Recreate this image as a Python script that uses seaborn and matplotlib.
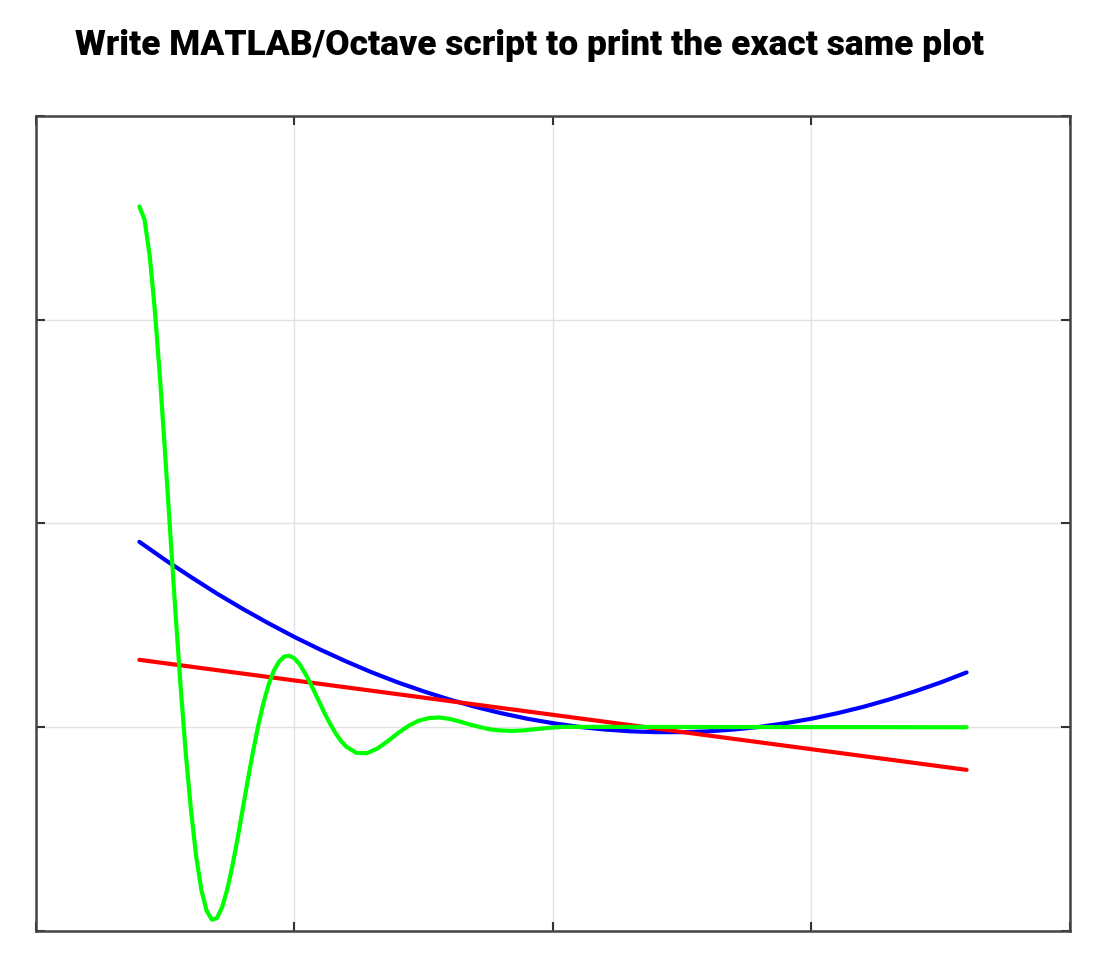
import matplotlib
matplotlib.use("Agg")
import matplotlib.pyplot as plt
import seaborn as sns

# values (x from 0 to 4, y from -1 to 3)
red_x = [0.4, 3.6]
red_y = [0.331, -0.209]

blue_x = [0.4, 0.5, 0.6, 0.7, 0.8, 0.9, 1.0, 1.1, 1.2, 1.3, 1.4, 1.5, 1.6, 1.7,
          1.8, 1.9, 2.0, 2.1, 2.2, 2.3, 2.4, 2.5, 2.6, 2.7, 2.8, 2.9, 3.0, 3.1,
          3.2, 3.3, 3.4, 3.5, 3.6]
blue_y = [0.910, 0.821, 0.737, 0.656, 0.581, 0.510, 0.443, 0.381, 0.323, 0.269,
          0.220, 0.176, 0.136, 0.100, 0.069, 0.042, 0.020, 0.002, -0.011, -0.020,
          -0.024, -0.024, -0.020, -0.011, 0.002, 0.020, 0.042, 0.069, 0.100,
          0.136, 0.176, 0.220, 0.269]

green_x = [0.40, 0.42, 0.44, 0.46, 0.48, 0.50, 0.52, 0.54, 0.56, 0.58, 0.60,
           0.62, 0.64, 0.66, 0.68, 0.70, 0.72, 0.74, 0.76, 0.78, 0.80, 0.82,
           0.84, 0.86, 0.88, 0.90, 0.92, 0.94, 0.96, 0.98, 1.00, 1.02, 1.04,
           1.06, 1.08, 1.10, 1.12, 1.14, 1.16, 1.18, 1.20, 1.24, 1.28, 1.32,
           1.36, 1.40, 1.44, 1.48, 1.52, 1.56, 1.60, 1.64, 1.68, 1.72, 1.76,
           1.80, 1.84, 1.88, 1.92, 1.96, 2.00, 2.04, 3.60]
green_y = [2.556, 2.492, 2.314, 2.045, 1.711, 1.336, 0.944, 0.557, 0.192,
           -0.135, -0.411, -0.636, -0.799, -0.900, -0.944, -0.937, -0.884,
           -0.796, -0.680, -0.545, -0.400, -0.255, -0.117, 0.009, 0.119, 0.209,
           0.277, 0.322, 0.347, 0.351, 0.338, 0.309, 0.267, 0.220, 0.167, 0.113,
           0.060, 0.012, -0.031, -0.067, -0.095, -0.126, -0.127, -0.105, -0.069,
           -0.029, 0.006, 0.032, 0.045, 0.048, 0.041, 0.028, 0.013, 0.000,
           -0.011, -0.016, -0.018, -0.016, -0.011, -0.006, -0.001, 0.002, 0.000]

x_ticks = [0, 1, 2, 3, 4]
y_ticks = [-1, 0, 1, 2, 3]

title = "Write MATLAB/Octave script to print the exact same plot"

sns.set_style("white")
plt.rcParams["font.family"] = ["Roboto", "DejaVu Sans"]

fig = plt.figure(figsize=(11, 9.68), dpi=100)
ax = fig.add_axes([0.0327, 0.0382, 0.94, 0.842])

sns.lineplot(x=blue_x, y=blue_y, color="#0000ff", linewidth=3, ax=ax)
sns.lineplot(x=red_x, y=red_y, color="#ff0000", linewidth=3, ax=ax)
sns.lineplot(x=green_x, y=green_y, color="#00ff00", linewidth=3, ax=ax)

ax.set_xlim(0, 4)
ax.set_ylim(-1, 3)
ax.set_xticks(x_ticks)
ax.set_yticks(y_ticks)
ax.set_xticklabels([])
ax.set_yticklabels([])
ax.set_xlabel("")
ax.set_ylabel("")
ax.grid(True, color="#e2e2e2", linewidth=1)
ax.set_axisbelow(True)
ax.tick_params(direction="in", top=True, right=True, bottom=True, left=True,
               length=6.5, width=1.5, color="#333333",
               labelbottom=False, labelleft=False)
for sp in ax.spines.values():
    sp.set_visible(True)
    sp.set_color("#444444")
    sp.set_linewidth(1.8)

t = fig.text(75 / 1100, 1 - 55 / 968, title, fontsize=25, fontweight="heavy",
             color="black", ha="left", va="baseline")
# scale the title so it spans the same width as in the reference (~910 px)
fig.canvas.draw()
w = t.get_window_extent().width
t.set_fontsize(25 * 910 / w)

fig.savefig("out.png", dpi=100)
